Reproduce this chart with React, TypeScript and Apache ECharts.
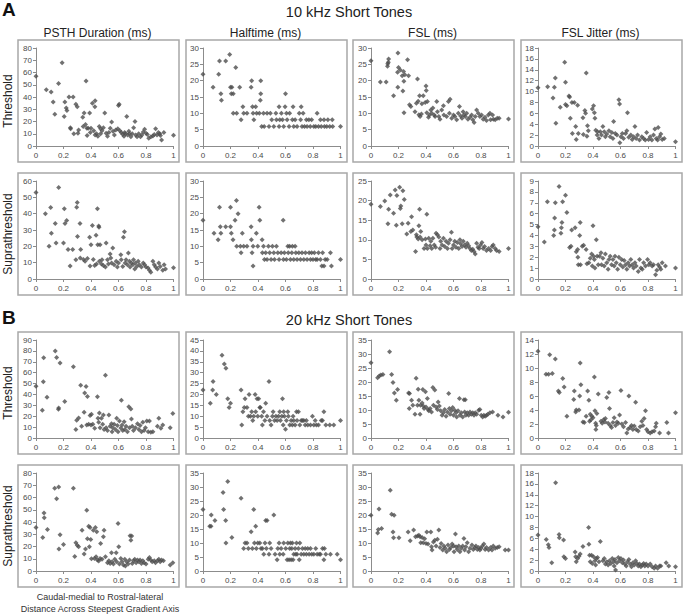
import React, { useEffect, useRef } from "react";
import * as echarts from "echarts";

// ---------- DATA (x = normalized distance, y = value) ----------
const sectionTitles = ["10 kHz Short Tones", "20 kHz Short Tones"];
const sectionLetters = ["A", "B"];
const columnTitles = ["PSTH Duration (ms)", "Halftime (ms)", "FSL (ms)", "FSL Jitter (ms)"];
const rowLabels = ["Threshold", "Suprathreshold", "Threshold", "Suprathreshold"];
const yMaxes = [
  [80, 30, 30, 18],
  [60, 30, 25, 9],
  [90, 45, 35, 14],
  [80, 35, 35, 18],
];
const ySteps = [
  [10, 5, 5, 2],
  [10, 5, 5, 1],
  [10, 5, 5, 2],
  [10, 5, 5, 2],
];

// 10 kHz, Threshold
const a10ThrPsth = [[0,57],[.075,46],[.11,44],[.125,36],[.137,26],[.164,51],[.19,68],[.205,24],[.21,36],[.22,31],[.225,29],[.24,40],[.25,15],[.252,14],[.27,40],[.275,10],[.29,34],[.3,32],[.305,10.5],[.34,23.5],[.35,27],[.343,16],[.36,17.5],[.364,53],[.37,14.5],[.372,8.5],[.38,14.5],[.39,27],[.4,14.5],[.41,35],[.43,37],[.428,32],[.42,12.5],[.44,10],[.45,8],[.46,16],[.47,14],[.48,12.5],[.5,27],[.49,15],[.51,10.5],[.52,8],[.54,14.5],[.55,19.5],[.56,12],[.57,9],[.58,13],[.595,14],[.6,33],[.605,34],[.61,12.5],[.62,11],[.64,8],[.645,11],[.65,10],[.66,24],[.667,9],[.675,12],[.69,7.5],[.7,10],[.71,15],[.72,20],[.725,9],[.735,7.5],[.747,10],[.76,7.5],[.77,9],[.78,11.5],[.79,13.7],[.8,10.4],[.81,9.3],[.82,6.3],[.836,7.6],[.85,8.2],[.86,9.3],[.87,14],[.88,9],[.89,11],[.9,10],[.905,8.5],[.913,5],[.93,11],[1,8.7],[.31,13],[.395,11],[.43,9],[.47,10],[.53,11],[.63,9.5],[.68,10]];
const a10ThrHalf = [[0,22],[.073,18],[.114,22],[.12,26],[.13,16],[.134,14],[.165,26],[.194,28],[.2,18],[.21,18],[.206,16],[.22,16],[.238,24],[.22,10],[.245,10],[.267,18],[.277,8],[.29,12],[.296,10],[.32,10],[.35,18],[.354,20],[.36,12],[.364,10],[.37,8],[.383,12],[.39,10],[.417,14],[.42,20],[.42,16],[.41,10],[.427,6],[.44,10],[.445,6],[.466,10],[.48,6],[.49,10],[.5,8],[.515,6],[.53,10],[.534,8],[.553,6],[.553,12],[.558,8],[.57,10],[.578,8],[.587,6],[.597,12],[.6,16],[.607,10],[.612,8],[.626,6],[.63,10],[.65,8],[.655,12],[.66,6],[.67,8],[.684,6],[.7,10],[.71,8],[.714,12],[.72,6],[.728,10],[.738,6],[.752,8],[.757,6],[.77,8],[.78,6],[.79,8],[.806,6],[.82,6],[.83,10],[.84,6],[.854,8],[.86,6],[.88,8],[.883,6],[.9,6],[.908,8],[.922,6],[.94,8],[.943,6],[1,6]];
const a10ThrFsl = [[0,26.1],[.068,19.6],[.11,19.6],[.12,24.4],[.126,25.6],[.128,26.6],[.122,25.2],[.164,15.4],[.196,28.5],[.2,24],[.193,22.6],[.195,18],[.213,23.3],[.227,21.5],[.232,16.8],[.237,22.8],[.239,19.8],[.24,10.2],[.246,21.8],[.266,26.4],[.273,21.5],[.28,12.6],[.29,12.1],[.32,10.5],[.33,13.1],[.338,20.5],[.343,13.7],[.348,9.6],[.353,15.4],[.357,9],[.367,9.8],[.37,12.9],[.38,15.4],[.394,13.3],[.4,18.4],[.402,17],[.406,10.2],[.41,13.6],[.418,8.8],[.425,9.5],[.435,11],[.442,10],[.45,11.6],[.46,9.5],[.466,9],[.478,13.6],[.483,10.5],[.493,9],[.502,8.2],[.514,11],[.527,12.3],[.53,9.5],[.55,9],[.563,13.6],[.57,10],[.575,14.3],[.587,8.5],[.6,9.5],[.61,9],[.623,8],[.635,10],[.643,12.1],[.652,9.2],[.662,8.5],[.67,10.5],[.676,9.5],[.686,9],[.696,10],[.705,8.2],[.72,8.8],[.732,9.5],[.74,8],[.75,7.2],[.758,9],[.768,11],[.78,10],[.792,9],[.804,9.5],[.816,8.2],[.829,8.8],[.84,7.8],[.853,9.5],[.865,10],[.87,8],[.884,9.5],[.89,8.2],[.903,8],[.918,8.5],[.932,8.5],[1,8.3]];
const a10ThrJit = [[0,10.7],[.07,10.9],[.109,8.8],[.119,10.8],[.126,12.5],[.13,4.2],[.162,7.1],[.194,15.4],[.2,11.7],[.2,7.6],[.21,7.4],[.225,9.2],[.23,9],[.235,5.1],[.247,8],[.25,2.3],[.264,8],[.274,3.6],[.278,1.2],[.288,7.5],[.293,2.3],[.327,5.2],[.33,2.1],[.341,6.5],[.346,6],[.351,13.4],[.356,1.8],[.36,3.7],[.366,2.8],[.395,6.8],[.404,7.4],[.41,6.1],[.414,5.1],[.42,2.9],[.43,2],[.433,2.6],[.443,1.4],[.453,2.6],[.462,2],[.472,3.6],[.482,2.6],[.49,1.7],[.5,2.2],[.516,2.8],[.525,1.7],[.537,2.5],[.545,1.4],[.55,4.5],[.562,2.3],[.574,2],[.588,8.5],[.593,7.7],[.595,0.6],[.603,1.7],[.613,2.3],[.622,1.4],[.637,2.3],[.646,2.8],[.651,6.1],[.66,1.6],[.675,2],[.685,1.2],[.695,1.7],[.705,3.6],[.714,1.4],[.724,2],[.738,1.1],[.755,1.7],[.768,1.4],[.78,1.1],[.79,2.5],[.804,1.2],[.816,1.7],[.828,1.1],[.84,2],[.85,3.1],[.86,1.4],[.87,1.1],[.874,3.4],[.884,1.7],[.893,2.2],[.903,1.2],[.918,1.4],[1,0.8]];

// 10 kHz, Suprathreshold
const a10SupPsth = [[0,52.9],[.068,40],[.107,43.7],[.095,20],[.112,28],[.14,34],[.146,22],[.165,56],[.2,22],[.206,43],[.211,34],[.223,35.8],[.233,18],[.248,8],[.267,18],[.29,11.8],[.296,44],[.3,46.8],[.302,26],[.32,34],[.325,18],[.322,12.8],[.345,12],[.357,10.8],[.374,12.6],[.39,25.6],[.393,8],[.4,21],[.41,32.7],[.417,12],[.427,8.3],[.437,26.8],[.44,9.2],[.447,43],[.449,21],[.456,32.5],[.458,31.7],[.461,10.8],[.466,21],[.476,9.2],[.48,11.8],[.49,8.3],[.505,7.3],[.51,22],[.52,11.8],[.527,9.2],[.539,15.3],[.544,12.8],[.55,9.8],[.558,19],[.568,8.7],[.583,10.8],[.592,7.3],[.6,9.8],[.617,14.8],[.62,11.8],[.631,7.7],[.636,25.6],[.643,28.9],[.648,9.8],[.655,11.8],[.665,8.7],[.672,15.9],[.68,10.8],[.684,7.3],[.694,9.8],[.704,8.7],[.709,11.8],[.718,6.1],[.723,9.8],[.733,7.7],[.743,10.8],[.752,8.7],[.767,7.3],[.78,9.8],[.79,8.7],[.8,7.3],[.815,6.7],[.825,5.3],[.835,4.1],[.85,10.8],[.86,8.7],[.87,7.3],[.883,6.1],[.893,9.8],[.903,7.7],[.922,5.3],[.932,8.7],[.942,6.1],[1,6.9]];
const a10SupHalf = [[0,18],[.08,14],[.11,12],[.12,22],[.126,16],[.13,14],[.165,16],[.2,16],[.2,22],[.206,14],[.218,12],[.233,18],[.243,24],[.255,20],[.245,10],[.272,10],[.277,8],[.286,14],[.296,10],[.32,10],[.35,16],[.352,12],[.357,8],[.364,10],[.364,4],[.388,14],[.398,10],[.408,22],[.413,18],[.43,12],[.432,8],[.44,10],[.447,6],[.456,8],[.466,6],[.476,10],[.485,8],[.495,6],[.505,10],[.515,8],[.52,6],[.534,10],[.544,8],[.553,6],[.568,8],[.583,18],[.585,6],[.592,8],[.607,6],[.617,10],[.62,8],[.63,10],[.636,6],[.646,8],[.65,10],[.66,6],[.67,10],[.675,8],[.684,6],[.697,8],[.709,6],[.72,8],[.733,6],[.745,8],[.757,6],[.772,8],[.782,6],[.79,8],[.8,6],[.81,8],[.82,6],[.83,6],[.84,8],[.854,6],[.864,4],[.87,8],[.88,4],[.888,6],[.903,6],[.927,8],[.934,4],[1,6]];
const a10SupFsl = [[0,19.1],[.068,18.5],[.1,19.9],[.128,17.8],[.123,14.1],[.14,21.4],[.164,16.8],[.176,22.7],[.184,13.7],[.188,21.3],[.208,23.4],[.213,18],[.217,18.6],[.227,14.1],[.232,22.5],[.242,20.3],[.26,11.5],[.27,14.2],[.29,12.1],[.295,15.9],[.304,12.5],[.324,7],[.33,11.3],[.333,10.7],[.343,10.2],[.348,13.6],[.353,17.8],[.357,10.7],[.362,12.1],[.372,10],[.386,7.8],[.396,10.2],[.4,8.7],[.406,16.5],[.41,7.8],[.42,10.4],[.43,8.5],[.435,9.6],[.442,7.8],[.45,10.4],[.46,8.7],[.47,8.1],[.473,11.7],[.483,11.3],[.493,10.7],[.502,7.8],[.507,9.6],[.517,8.7],[.527,10.4],[.536,8.3],[.546,9.6],[.556,7.8],[.563,9.1],[.575,10],[.585,11.9],[.59,7.8],[.6,8.7],[.609,9.6],[.618,8.1],[.628,9.3],[.638,7.8],[.647,10],[.652,9],[.662,8.3],[.671,9.6],[.681,8.7],[.691,8.1],[.7,9.1],[.71,8.5],[.72,7.8],[.73,7.3],[.74,7.6],[.749,7],[.758,6.4],[.768,9.1],[.778,8.1],[.787,7.8],[.797,8.7],[.807,9.3],[.816,7.8],[.826,8.3],[.84,7.3],[.855,7.8],[.87,7.3],[.88,8.3],[.889,8.7],[.903,7.8],[.913,7.3],[.932,7],[1,7.8]];
const a10SupJit = [[0,4.8],[.046,3.4],[.068,7.1],[.114,4],[.119,4.5],[.121,5.6],[.126,7],[.153,8.5],[.167,4.2],[.17,4.7],[.174,5.2],[.179,7.1],[.2,7.7],[.21,6.1],[.23,2.9],[.24,3],[.245,4.5],[.27,4.7],[.278,2.5],[.288,2.7],[.29,2],[.293,1.3],[.303,4],[.307,5.2],[.309,1.3],[.322,3],[.332,3.1],[.35,2.7],[.356,1.4],[.37,1.5],[.38,1.9],[.39,2.3],[.395,1.2],[.4,4.9],[.404,2.1],[.41,1.8],[.414,1],[.424,3.6],[.43,2.1],[.438,1.3],[.448,2.1],[.458,2.4],[.462,1.3],[.472,1.9],[.482,1.2],[.49,2.3],[.5,1.5],[.51,0.9],[.516,1.8],[.525,2.1],[.535,1.3],[.545,1.8],[.554,1.2],[.56,2.1],[.569,1.5],[.579,0.9],[.588,2],[.598,1.3],[.608,1.8],[.617,1.1],[.627,1.7],[.637,1.3],[.646,0.9],[.656,1.5],[.666,1.2],[.675,1.8],[.685,1.3],[.695,1],[.705,1.5],[.714,1.2],[.729,0.7],[.738,1.8],[.748,1],[.758,0.9],[.768,1.5],[.782,1.2],[.797,1.8],[.806,1.3],[.816,1.5],[.83,1.2],[.84,1.3],[.855,0.4],[.864,0.8],[.874,1.3],[.884,1.1],[.893,0.9],[.903,1.5],[.927,1.2],[1,1]];

// 20 kHz, Threshold
const b20ThrPsth = [[0,47.6],[.046,25.5],[.053,51.6],[.056,73.7],[.08,37.5],[.14,79.8],[.15,74],[.163,26.4],[.165,27.6],[.175,68.8],[.209,33.5],[.272,65.4],[.29,7.7],[.296,16.3],[.31,18.4],[.325,48.5],[.332,10.7],[.35,23.6],[.354,41.4],[.364,47.3],[.369,12],[.374,38],[.383,12.6],[.393,20.6],[.4,12],[.403,21.8],[.413,12.6],[.427,8.9],[.447,37.8],[.451,18.1],[.456,14.4],[.461,23],[.466,9.5],[.476,18.1],[.485,12.6],[.49,21.2],[.495,7.7],[.505,57.7],[.51,9.5],[.52,7],[.53,21.2],[.539,10.7],[.549,13.2],[.553,5.8],[.558,9.5],[.568,12.6],[.578,7.7],[.587,18.1],[.592,11.4],[.597,5.8],[.607,15.7],[.617,9.2],[.621,34.7],[.626,12],[.631,7],[.641,15],[.646,7.7],[.655,10.7],[.665,5.8],[.675,28.6],[.68,9.5],[.69,26.7],[.694,17.5],[.7,10.7],[.709,7],[.723,9.5],[.738,13.2],[.748,7.7],[.757,11.4],[.767,5.8],[.777,14.4],[.786,7],[.796,9.5],[.806,15.7],[.816,5.8],[.825,15.7],[.835,5.2],[.85,5.8],[.883,10.7],[.893,18.1],[.908,8.9],[.922,12],[.976,9.5],[.995,22.4]];
const b20ThrHalf = [[0,22],[.053,16],[.07,22],[.073,26],[.097,20],[.138,38],[.155,34],[.167,32],[.18,18],[.19,14],[.2,16],[.277,22],[.282,6],[.29,12],[.3,14],[.306,18],[.32,14],[.33,10],[.335,20],[.345,10],[.354,12],[.362,8],[.369,10],[.379,20],[.383,12],[.393,18],[.398,10],[.405,18],[.413,14],[.417,14],[.427,10],[.432,6],[.44,12],[.45,8],[.456,16],[.466,10],[.48,26],[.485,8],[.495,6],[.505,10],[.51,12],[.52,8],[.53,10],[.539,8],[.549,10],[.558,12],[.563,8],[.573,10],[.578,18],[.583,6],[.587,12],[.592,10],[.6,4],[.607,8],[.617,12],[.621,10],[.631,6],[.641,8],[.65,6],[.655,10],[.66,8],[.67,6],[.68,12],[.684,8],[.694,12],[.704,6],[.714,8],[.723,8],[.733,8],[.743,6],[.752,8],[.762,6],[.782,6],[.796,10],[.806,6],[.816,8],[.825,6],[.84,6],[.86,8],[.869,8],[.879,12],[.893,6],[.922,6],[.951,6],[1,8]];
const b20ThrFsl = [[0,26.9],[.048,21.5],[.06,22.1],[.072,22.5],[.087,22.7],[.135,30.8],[.15,22.7],[.16,19.8],[.17,16.1],[.184,13.5],[.193,17.3],[.273,16.1],[.28,15.9],[.278,10.5],[.295,13.5],[.304,11.7],[.32,8.5],[.328,21.3],[.338,11.7],[.343,17.4],[.348,13.5],[.357,8.5],[.36,11.7],[.372,12.5],[.377,17.3],[.38,11.4],[.386,10.5],[.396,16.5],[.4,11.1],[.41,14.1],[.415,10.2],[.42,9.7],[.43,10.5],[.44,9.3],[.45,18],[.454,11.7],[.464,17.1],[.473,11.1],[.483,10.2],[.488,12.9],[.497,11.4],[.507,9.7],[.517,8.1],[.527,9],[.536,10.2],[.546,7.8],[.556,9.3],[.565,15.9],[.57,10.5],[.575,8.5],[.585,9.7],[.594,10.9],[.6,8.1],[.609,9.9],[.618,9],[.623,7.5],[.633,9.7],[.643,14.1],[.647,8.1],[.657,9],[.667,7.5],[.676,13.7],[.681,9.3],[.686,13.7],[.69,8.1],[.7,9],[.71,8.1],[.72,9.3],[.73,8.5],[.74,9],[.749,8.1],[.758,9],[.768,8.5],[.783,9.9],[.792,10.2],[.802,8.1],[.812,7.5],[.821,8.1],[.83,7.8],[.84,8.1],[.85,8.5],[.865,9],[.884,9.3],[.923,8.1],[.96,7.5],[1,9.2]];
const b20ThrJit = [[0,12.4],[.058,9.1],[.077,9.1],[.085,11.9],[.104,9.2],[.126,11.3],[.148,6.7],[.155,6.5],[.18,8.5],[.19,7.3],[.21,3.1],[.26,5.5],[.264,6.7],[.274,3.7],[.278,4],[.298,4],[.303,6],[.307,10.7],[.312,7.6],[.327,2.3],[.337,2.2],[.35,3.1],[.361,6.7],[.37,5.4],[.375,2.4],[.38,3.4],[.385,2.6],[.392,3.1],[.4,2.9],[.41,8.7],[.414,3.9],[.419,2.1],[.421,1.2],[.424,1.8],[.428,3.5],[.438,6.3],[.458,2.4],[.467,2.1],[.477,2.6],[.487,2.3],[.49,2.8],[.5,5.8],[.51,2.1],[.516,6.5],[.52,4.2],[.525,1.8],[.535,1.5],[.545,2.2],[.554,2.9],[.564,1.8],[.574,2.3],[.584,2.1],[.593,3.3],[.603,6.8],[.61,2],[.622,1.6],[.637,2.2],[.646,0.7],[.656,1.3],[.661,6],[.67,1.5],[.68,1.8],[.69,1.2],[.7,1.7],[.71,5.1],[.714,1.2],[.729,1],[.743,1.6],[.755,2.4],[.763,1.8],[.772,2.8],[.782,3.9],[.79,1.2],[.8,0.9],[.816,0.7],[.83,0.9],[.845,1],[.855,1.6],[.86,2.1],[.884,0.7],[.937,2.2],[.949,0.7],[1,3.6]];

// 20 kHz, Suprathreshold
const b20SupPsth = [[0,35.5],[.049,27.4],[.058,47.4],[.06,43.4],[.083,33.9],[.136,67.5],[.15,59],[.165,68.6],[.167,17.9],[.175,29.5],[.2,21.7],[.272,67.5],[.282,11.9],[.29,23],[.3,21.1],[.31,19.8],[.335,33.3],[.35,13.8],[.36,17.9],[.369,49.6],[.374,26.3],[.383,36.6],[.388,19.8],[.393,35.5],[.398,25.7],[.403,10],[.417,33.3],[.425,10.3],[.432,35.5],[.437,11.7],[.442,32],[.447,8.9],[.456,8.1],[.466,10.3],[.47,22.5],[.48,9.5],[.49,27.9],[.495,33.3],[.505,11.7],[.52,6.8],[.53,8.4],[.539,6.2],[.549,14.9],[.553,7.6],[.563,5.7],[.573,9.5],[.583,14.9],[.587,7.6],[.597,38.8],[.602,19.8],[.607,5.7],[.617,10.3],[.626,7.6],[.636,4.9],[.646,9.5],[.65,4.1],[.66,7.6],[.67,5.7],[.68,8.9],[.684,28.7],[.69,25.2],[.696,28.5],[.7,6.2],[.709,8.4],[.718,9.5],[.728,6.8],[.738,8.9],[.748,7.6],[.757,8.9],[.767,6.2],[.777,8.4],[.786,6.8],[.8,5.7],[.816,9.5],[.825,11.1],[.835,8.9],[.845,7.6],[.86,8.4],[.869,6.8],[.883,8.4],[.893,9.5],[.903,7.6],[.913,8.9],[.927,8.4],[.976,4.9],[.995,6.8]];
const b20SupHalf = [[0,22],[.049,16],[.058,16],[.06,20],[.087,18],[.146,28],[.15,22],[.165,18],[.167,10],[.18,32],[.21,12],[.277,26],[.296,8],[.306,10],[.32,10],[.33,8],[.35,14],[.359,8],[.369,22],[.374,10],[.383,16],[.388,8],[.398,10],[.413,10],[.422,8],[.432,8],[.442,6],[.451,10],[.456,18],[.461,8],[.466,18],[.48,6],[.485,10],[.495,8],[.515,20],[.524,6],[.539,4],[.544,8],[.553,10],[.558,6],[.568,8],[.583,6],[.587,10],[.602,8],[.612,4],[.617,10],[.626,4],[.631,8],[.636,10],[.641,4],[.646,8],[.65,10],[.655,4],[.66,6],[.67,8],[.675,6],[.68,10],[.684,6],[.694,8],[.7,4],[.704,10],[.714,6],[.723,8],[.733,6],[.743,8],[.752,6],[.762,8],[.772,6],[.782,8],[.791,6],[.806,6],[.82,8],[.83,6],[.845,6],[.854,6],[.869,8],[.879,4],[.883,8],[.893,6],[.927,6],[.976,6],[1,4]];
const b20SupFsl = [[0,19.9],[.048,13.6],[.053,14.8],[.058,22.1],[.077,15.2],[.14,28.8],[.15,20.3],[.168,19.9],[.16,13.9],[.164,11.9],[.203,11.9],[.27,13.9],[.285,10.8],[.31,14.6],[.324,12.2],[.338,12.5],[.348,12.8],[.357,12.2],[.362,10.1],[.372,12],[.38,10.1],[.39,11.5],[.4,9.8],[.406,13.9],[.415,9.6],[.435,13.9],[.44,8.7],[.444,7.5],[.454,10.4],[.464,11],[.473,8.9],[.483,11.3],[.493,14.6],[.502,8.4],[.51,9.8],[.522,7.5],[.53,8.9],[.54,8.1],[.55,6.9],[.56,9.3],[.57,7.7],[.58,8.4],[.59,9.6],[.6,8.9],[.604,6.9],[.614,13.2],[.618,8.7],[.628,7.7],[.638,8.9],[.647,6.9],[.657,8.1],[.667,8.9],[.676,11.6],[.681,7.5],[.69,8.7],[.7,10.1],[.71,6.9],[.72,8.1],[.734,9.3],[.744,7.7],[.754,8.4],[.763,8.9],[.773,7.7],[.783,8.4],[.792,7.5],[.8,8.1],[.81,8.9],[.821,9.6],[.83,7.7],[.84,8.4],[.855,7.5],[.87,8.4],[.88,7.5],[.889,8.9],[.903,8.1],[.918,8.4],[.932,8.7],[.976,7.5],[1,7.5]];
const b20SupJit = [[0,6.6],[.06,5.8],[.075,4.8],[.08,4.3],[.1,1.5],[.128,16.2],[.153,6.7],[.155,6.1],[.186,5.7],[.188,2.6],[.2,2.3],[.27,3.5],[.274,2.6],[.278,1.7],[.288,2.3],[.298,2.7],[.307,3.1],[.327,4.5],[.368,8],[.37,4.9],[.375,2.9],[.38,1.7],[.39,2.9],[.395,1.4],[.404,2.6],[.414,1.9],[.419,1.1],[.424,2.3],[.433,2.5],[.443,1.7],[.453,5.4],[.472,1.9],[.482,2.3],[.49,1.3],[.5,1.7],[.51,1.1],[.52,1.9],[.53,1.4],[.54,2.3],[.55,1.7],[.554,0.9],[.56,2.1],[.564,0.2],[.574,1.5],[.584,2.5],[.593,1.9],[.603,2.3],[.613,1.5],[.622,2],[.632,1.3],[.642,0.9],[.651,1.7],[.661,2.1],[.67,1.3],[.68,0.8],[.69,1.5],[.7,1.1],[.71,1.9],[.72,1.4],[.729,0.9],[.738,1.3],[.748,0.8],[.758,1.1],[.768,1.4],[.777,0.9],[.787,1.3],[.8,0.9],[.816,1.3],[.83,0.8],[.845,0.5],[.855,0.9],[.87,0.5],[.884,0.9],[.893,0.9],[.932,1.5],[.951,0.9],[1,0.8]];

const panelData = [
  [a10ThrPsth, a10ThrHalf, a10ThrFsl, a10ThrJit],
  [a10SupPsth, a10SupHalf, a10SupFsl, a10SupJit],
  [b20ThrPsth, b20ThrHalf, b20ThrFsl, b20ThrJit],
  [b20SupPsth, b20SupHalf, b20SupFsl, b20SupJit],
];
const footnote = ["Caudal-medial to Rostral-lateral", "Distance Across Steepest Gradient Axis"];

// ---------- LAYOUT ----------
const FONT = '"Liberation Sans", Arial, Helvetica, sans-serif';
const boxLefts = [18, 186, 353, 521];
const boxWidth = 161;
const gridLefts = [36, 203, 371, 538];
const gridWidth = 137.5;
const gridTops = [48, 181, 340, 473];
const gridHeight = 98;
const markColor = "#4d4d4d";
const tickColor = "#4a4a4a";
const axisColor = "#8c8c8c";

export default function App() {
  const ref = useRef<HTMLDivElement>(null);
  useEffect(() => {
    if (!ref.current) return;
    const chart = echarts.init(ref.current, null, { renderer: "svg" });
    const grids: any[] = [];
    const xAxes: any[] = [];
    const yAxes: any[] = [];
    const series: any[] = [];
    const elements: any[] = [];
    let idx = 0;
    for (let r = 0; r < 4; r++) {
      for (let c = 0; c < 4; c++) {
        grids.push({ left: gridLefts[c], top: gridTops[r], width: gridWidth, height: gridHeight, containLabel: false });
        xAxes.push({
          type: "value", gridIndex: idx, min: 0, max: 1, interval: 0.2,
          axisLine: { show: true, lineStyle: { color: axisColor, width: 1 } },
          axisTick: { show: true, length: 3, inside: false, lineStyle: { color: axisColor } },
          axisLabel: { color: tickColor, fontSize: 8, fontFamily: FONT, margin: 5, showMinLabel: true, showMaxLabel: true },
          splitLine: { show: false },
        });
        yAxes.push({
          type: "value", gridIndex: idx, min: 0, max: yMaxes[r][c], interval: ySteps[r][c],
          axisLine: { show: true, lineStyle: { color: axisColor, width: 1 } },
          axisTick: { show: true, length: 3, inside: false, lineStyle: { color: axisColor } },
          axisLabel: { color: tickColor, fontSize: 8, fontFamily: FONT, margin: 4, showMinLabel: true, showMaxLabel: true },
          splitLine: { show: false },
        });
        series.push({
          type: "scatter", xAxisIndex: idx, yAxisIndex: idx,
          data: panelData[r][c], symbol: "diamond", symbolSize: 5,
          itemStyle: { color: markColor },
          emphasis: { disabled: true },
        });
        elements.push({
          type: "rect", z: 0,
          shape: { x: boxLefts[c], y: gridTops[r] - 8, width: boxWidth, height: 122 },
          style: { fill: "none", stroke: "#a8a8a8", lineWidth: 1.5 },
        });
        idx++;
      }
    }
    for (let c = 0; c < 4; c++) {
      elements.push({
        type: "text",
        style: { text: columnTitles[c], x: boxLefts[c] + boxWidth / 2 - 1, y: 33, textAlign: "center", textVerticalAlign: "middle", fontSize: 12, fontFamily: FONT, fill: "#222" },
      });
    }
    for (let r = 0; r < 4; r++) {
      elements.push({
        type: "text", x: 8, y: gridTops[r] + 53, rotation: Math.PI / 2,
        style: { text: rowLabels[r], x: 0, y: 0, textAlign: "center", textVerticalAlign: "middle", fontSize: 12, fontFamily: FONT, fill: "#222" },
      });
    }
    const secY = [12, 320];
    for (let s = 0; s < 2; s++) {
      elements.push({
        type: "text",
        style: { text: sectionLetters[s], x: 2, y: secY[s] - 3, textAlign: "left", textVerticalAlign: "middle", fontSize: 19, fontWeight: "bold", fontFamily: FONT, fill: "#111" },
      });
      elements.push({
        type: "text",
        style: { text: sectionTitles[s], x: 349, y: secY[s], textAlign: "center", textVerticalAlign: "middle", fontSize: 14.5, fontFamily: FONT, fill: "#222" },
      });
    }
    elements.push({
      type: "text",
      style: { text: footnote[0], x: 100, y: 597, textAlign: "center", textVerticalAlign: "middle", fontSize: 9, fontFamily: FONT, fill: "#333" },
    });
    elements.push({
      type: "text",
      style: { text: footnote[1], x: 100, y: 609, textAlign: "center", textVerticalAlign: "middle", fontSize: 9, fontFamily: FONT, fill: "#333" },
    });

    chart.setOption({
      animation: false,
      backgroundColor: "#ffffff",
      grid: grids,
      xAxis: xAxes,
      yAxis: yAxes,
      series,
      graphic: { elements },
    });
    return () => chart.dispose();
  }, []);
  return <div ref={ref} style={{ position: "fixed", left: 0, top: 0, width: 683, height: 614 }} />;
}
